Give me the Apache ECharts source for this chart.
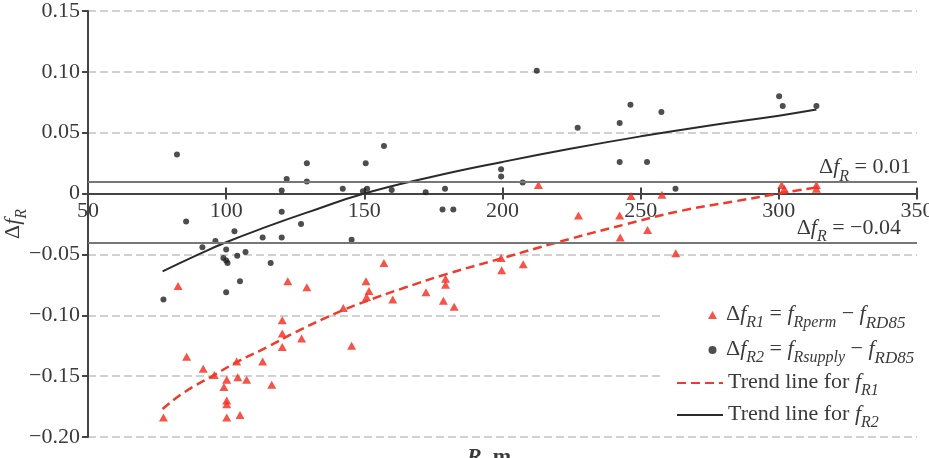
<!DOCTYPE html>
<html>
<head>
<meta charset="utf-8">
<script src="https://cdn.jsdelivr.net/npm/echarts@6/dist/echarts.min.js"></script>
<style>
  html, body { margin: 0; padding: 0; background: #fff; }
  #chart { width: 929px; height: 458px; }
</style>
</head>
<body>
<div id="chart"></div>
<script>
// Δf_R1 = f_Rperm − f_RD85 (red triangles)
const r1X = [77.3, 82.6, 85.7, 91.7, 95.7, 99.2, 100.2, 100.2, 100.2, 100.2, 103.8, 104.2, 105, 107.4, 113.2, 116.5,
  120.3, 120.3, 120.3, 122.3, 127.3, 129.2, 142.4, 145.4, 150.6, 151.7, 150.8, 157.1, 160.3, 172.3, 178.6, 179.4,
  179.4, 182.5, 199.5, 199.7, 207.5, 213, 227.5, 242.4, 242.6, 246.5, 252.5, 257.7, 262.7, 301, 302, 313.6, 313.6];
const r1Y = [-0.184, -0.076, -0.134, -0.144, -0.149, -0.159, -0.153, -0.170, -0.173, -0.184, -0.138, -0.151, -0.182, -0.153, -0.138, -0.157,
  -0.104, -0.115, -0.126, -0.072, -0.119, -0.077, -0.094, -0.125, -0.072, -0.080, -0.085, -0.057, -0.087, -0.081, -0.088, -0.070,
  -0.075, -0.093, -0.053, -0.063, -0.058, 0.007, -0.018, -0.018, -0.036, -0.002, -0.030, -0.001, -0.049, 0.007, 0.004, 0.007, 0.004];

// Δf_R2 = f_Rsupply − f_RD85 (black dots)
const r2X = [82.2, 85.5, 77.3, 91.4, 96.1, 100, 99, 100, 100.5, 103, 104, 107, 105, 100, 113.2, 116.1,
  120.1, 120.1, 120.1, 121.9, 127.1, 129.2, 129.2, 142.2, 145.4, 150.5, 149.5, 151, 157.1, 159.9, 172.2, 179.2,
  178.3, 182.2, 199.5, 199.5, 207.3, 212.4, 227.2, 242.4, 246.3, 257.5, 242.4, 252.3, 262.6, 300.1, 301.4, 313.6];
const r2Y = [0.032, -0.023, -0.087, -0.044, -0.039, -0.046, -0.053, -0.055, -0.057, -0.031, -0.051, -0.048, -0.072, -0.081, -0.036, -0.057,
  0.0025, -0.015, -0.036, 0.012, -0.025, 0.025, 0.010, 0.004, -0.038, 0.025, 0.002, 0.004, 0.039, 0.003, 0.001, 0.004,
  -0.013, -0.013, 0.020, 0.014, 0.009, 0.101, 0.054, 0.058, 0.073, 0.067, 0.026, 0.026, 0.004, 0.080, 0.072, 0.072];

// trend lines
const trend1X = [77, 85, 95, 105, 115, 125, 140, 150, 165, 180, 200, 220, 245, 265, 285, 300, 313.6];
const trend1Y = [-0.177, -0.163, -0.150, -0.137, -0.126, -0.114, -0.098, -0.089, -0.077, -0.066, -0.053, -0.040, -0.025, -0.014, -0.006, 0.000, 0.005];
const trend2X = [77, 90, 100, 115, 130, 150, 175, 200, 225, 250, 275, 300, 313.6];
const trend2Y = [-0.064, -0.050, -0.040, -0.027, -0.015, 0.000, 0.014, 0.026, 0.037, 0.047, 0.056, 0.064, 0.069];

const refLevels = [0.01, -0.04];
const xTicks = { min: 50, max: 350, step: 50 };
const yTicks = { min: -0.2, max: 0.15, step: 0.05 };

const names = ['dfR1', 'dfR2', 'trend1', 'trend2'];

const zip = (xs, ys) => xs.map((x, i) => [x, ys[i]]);

const FONT = '"Liberation Serif", "DejaVu Serif", serif';
const TXT = '#3a3a3a';

const GRID = { left: 88, right: 12, top: 11, bottom: 21 };
const PLOT_H = 458 - GRID.top - GRID.bottom;
// distance from the bottom edge of the grid up to y = 0
const zeroLift = PLOT_H * (0 - yTicks.min) / (yTicks.max - yTicks.min);

const rich = {
  m: { fontFamily: FONT, fontSize: 22, color: TXT, lineHeight: 24, verticalAlign: 'top' },
  i: { fontFamily: FONT, fontSize: 22, color: TXT, fontStyle: 'italic', lineHeight: 24, verticalAlign: 'top' },
  s: { fontFamily: FONT, fontSize: 16, color: TXT, fontStyle: 'italic', lineHeight: 16, padding: [12, 0, 0, 0], verticalAlign: 'top' },
  t: { fontFamily: FONT, fontSize: 17, color: TXT, fontStyle: 'italic', lineHeight: 16, padding: [12, 0, 0, 0], verticalAlign: 'top' },
  g: { fontFamily: FONT, fontSize: 22, color: TXT, lineHeight: 24, verticalAlign: 'top', padding: [0, 0, 0, 4] },
};

const legendText = {
  dfR1: '{g|Δ}{i|f}{s|R1}{m| = }{i|f}{s|Rperm}{m| − }{i|f}{t|RD85}',
  dfR2: '{g|Δ}{i|f}{s|R2}{m| = }{i|f}{s|Rsupply}{m| − }{i|f}{t|RD85}',
  trend1: '{m|Trend line for }{i|f}{s|R1}',
  trend2: '{m|Trend line for }{i|f}{s|R2}',
};

const fmtY = (v) => {
  const r = Math.round(v * 100) / 100;
  if (r === 0) return '0';
  return (r < 0 ? '−' : '') + Math.abs(r).toFixed(2);
};

const axisLineStyle = { color: '#444', width: 2 };

const chart = echarts.init(document.getElementById('chart'));

chart.setOption({
  backgroundColor: '#fff',
  animation: false,
  grid: { ...GRID, outerBoundsMode: 'none' },
  title: {
    text: '{i|R}{m|, m}',
    left: 462,
    top: 441,
    textStyle: { rich },
  },
  graphic: [
    { type: 'rect', left: 663, top: 292, shape: { width: 266, height: 136 }, style: { fill: '#fff' }, z: 1 },
  ],
  legend: [
    {
      data: names.slice(0, 2),
      orient: 'vertical',
      left: 703,
      top: 298,
      itemWidth: 9,
      itemHeight: 8,
      itemGap: 6,
      formatter: (n) => legendText[n],
      textStyle: { rich },
    },
    {
      data: names.slice(2),
      orient: 'vertical',
      left: 671,
      top: 366,
      itemWidth: 46,
      itemHeight: 14,
      itemGap: 4,
      formatter: (n) => legendText[n],
      textStyle: { rich },
    },
  ],
  xAxis: [
    {
      // zero line, ticks pointing down
      type: 'value',
      min: xTicks.min,
      max: xTicks.max,
      interval: xTicks.step,
      axisLine: { onZero: true, onZeroAxisIndex: 0, lineStyle: axisLineStyle },
      axisTick: { show: true, length: 6, lineStyle: axisLineStyle },
      axisLabel: { show: false },
      splitLine: { show: false },
    },
    {
      // ticks pointing up
      type: 'value',
      position: 'top',
      min: xTicks.min,
      max: xTicks.max,
      interval: xTicks.step,
      axisLine: { onZero: true, onZeroAxisIndex: 0, lineStyle: axisLineStyle },
      axisTick: { show: true, length: 6, lineStyle: axisLineStyle },
      axisLabel: { show: false },
      splitLine: { show: false },
    },
    {
      // tick labels just under the zero line
      type: 'value',
      position: 'bottom',
      offset: -zeroLift,
      min: xTicks.min,
      max: xTicks.max,
      interval: xTicks.step,
      axisLine: { show: false, onZero: false },
      axisTick: { show: false },
      axisLabel: { color: TXT, fontFamily: FONT, fontSize: 22, margin: 7 },
      splitLine: { show: false },
    },
  ],
  yAxis: {
    type: 'value',
    min: yTicks.min,
    max: yTicks.max,
    interval: yTicks.step,
    name: '{m|Δ}{i|f}{s|R}',
    nameLocation: 'middle',
    nameGap: 62,
    nameRotate: 90,
    nameMoveOverlap: false,
    nameTextStyle: { rich },
    axisLine: { onZero: false, lineStyle: axisLineStyle },
    axisTick: { show: true, length: 6, lineStyle: axisLineStyle },
    axisLabel: { color: TXT, fontFamily: FONT, fontSize: 22, margin: 8, formatter: fmtY },
    splitLine: { show: true, lineStyle: { color: '#c2c2c2', width: 1.5, type: [8, 4] } },
  },
  series: [
    {
      name: 'dfR1',
      type: 'scatter',
      symbol: 'triangle',
      symbolSize: [9, 8],
      itemStyle: { color: '#f5281c' },
      data: zip(r1X, r1Y),
      z: 3,
    },
    {
      name: 'dfR2',
      type: 'scatter',
      symbol: 'circle',
      symbolSize: 6,
      itemStyle: { color: '#222' },
      data: zip(r2X, r2Y),
      z: 3,
      markLine: {
        silent: true,
        symbol: 'none',
        lineStyle: { color: '#777', width: 2, type: 'solid' },
        label: {
          position: 'insideEndTop',
          distance: [6, 1],
          formatter: (p) => '{m|Δ}{i|f}{s|R}{m| = ' + fmtY(p.value) + '}',
          rich,
        },
        data: refLevels.map((v, i) => ({ yAxis: v, label: { distance: [i === 0 ? 6 : 16, 1] } })),
      },
    },
    {
      name: 'trend1',
      type: 'line',
      smooth: true,
      symbol: 'none',
      lineStyle: { color: '#f03a2a', width: 2.5, type: [9, 5] },
      itemStyle: { color: 'rgba(0,0,0,0)', borderWidth: 0 },
      data: zip(trend1X, trend1Y),
      z: 4,
    },
    {
      name: 'trend2',
      type: 'line',
      smooth: true,
      symbol: 'none',
      lineStyle: { color: '#2a2a2a', width: 2 },
      itemStyle: { color: 'rgba(0,0,0,0)', borderWidth: 0 },
      data: zip(trend2X, trend2Y),
      z: 4,
    },
  ],
});

window.addEventListener('resize', () => chart.resize());
</script>
</body>
</html>
